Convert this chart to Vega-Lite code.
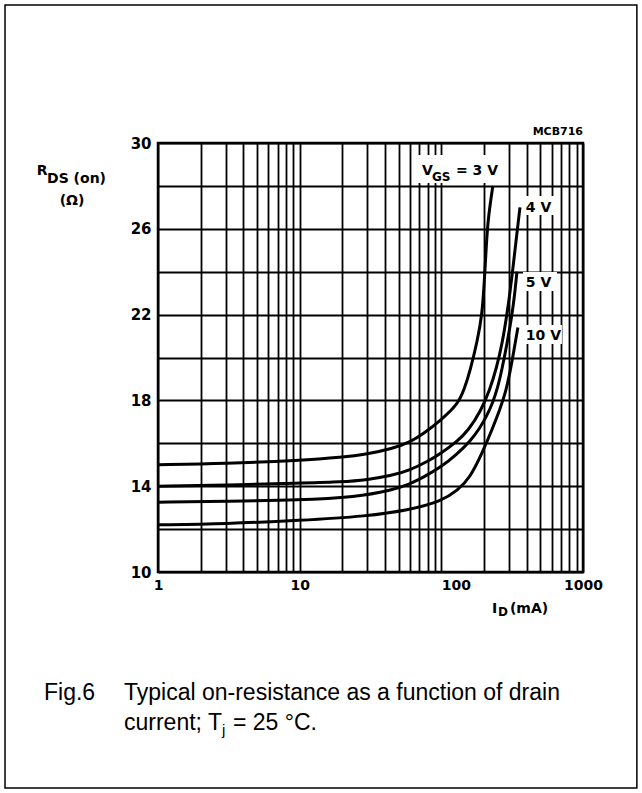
{
  "$schema": "https://vega.github.io/schema/vega-lite/v6.json",
  "width": 425,
  "height": 429,
  "autosize": {"type": "none"},
  "padding": {"left": 158, "top": 143, "right": 59, "bottom": 221},
  "background": "white",
  "config": {"view": {"stroke": "#000", "strokeWidth": 2.5}},
  "datasets": {
    "frame": [{"id": 0.0832, "id2": 2400, "r": 36.43, "r2": -0.07}],
    "boxes": [
      {"id": 68.4, "id2": 290, "r": 28.14, "r2": 29.44},
      {"id": 371, "id2": 645, "r": 26.64, "r2": 27.53},
      {"id": 377, "id2": 655, "r": 23.10, "r2": 23.99},
      {"id": 377, "id2": 710, "r": 20.63, "r2": 21.51}
    ],
    "curves": [
      {"vgs": "3 V", "id": 1, "r": 15.0}, {"vgs": "3 V", "id": 3, "r": 15.05}, {"vgs": "3 V", "id": 10, "r": 15.2},
      {"vgs": "3 V", "id": 20, "r": 15.35}, {"vgs": "3 V", "id": 30, "r": 15.5}, {"vgs": "3 V", "id": 45, "r": 15.75},
      {"vgs": "3 V", "id": 60, "r": 16.05}, {"vgs": "3 V", "id": 75, "r": 16.45}, {"vgs": "3 V", "id": 100, "r": 17.1},
      {"vgs": "3 V", "id": 130, "r": 17.8}, {"vgs": "3 V", "id": 145, "r": 18.5}, {"vgs": "3 V", "id": 160, "r": 19.4},
      {"vgs": "3 V", "id": 180, "r": 20.8}, {"vgs": "3 V", "id": 194, "r": 22.0}, {"vgs": "3 V", "id": 201, "r": 23.5},
      {"vgs": "3 V", "id": 208, "r": 25.3}, {"vgs": "3 V", "id": 214, "r": 26.5}, {"vgs": "3 V", "id": 231, "r": 28.0},
      {"vgs": "4 V", "id": 1, "r": 14.0}, {"vgs": "4 V", "id": 3, "r": 14.05}, {"vgs": "4 V", "id": 10, "r": 14.15},
      {"vgs": "4 V", "id": 20, "r": 14.2}, {"vgs": "4 V", "id": 30, "r": 14.3}, {"vgs": "4 V", "id": 45, "r": 14.5},
      {"vgs": "4 V", "id": 60, "r": 14.75}, {"vgs": "4 V", "id": 80, "r": 15.15}, {"vgs": "4 V", "id": 100, "r": 15.55},
      {"vgs": "4 V", "id": 130, "r": 16.1}, {"vgs": "4 V", "id": 155, "r": 16.6}, {"vgs": "4 V", "id": 190, "r": 17.5},
      {"vgs": "4 V", "id": 220, "r": 18.5}, {"vgs": "4 V", "id": 245, "r": 19.5}, {"vgs": "4 V", "id": 270, "r": 20.7},
      {"vgs": "4 V", "id": 290, "r": 22.0}, {"vgs": "4 V", "id": 305, "r": 23.0}, {"vgs": "4 V", "id": 318, "r": 24.0},
      {"vgs": "4 V", "id": 335, "r": 25.3}, {"vgs": "4 V", "id": 359, "r": 27.0},
      {"vgs": "5 V", "id": 1, "r": 13.25}, {"vgs": "5 V", "id": 3, "r": 13.3}, {"vgs": "5 V", "id": 10, "r": 13.35},
      {"vgs": "5 V", "id": 25, "r": 13.5}, {"vgs": "5 V", "id": 44, "r": 13.8}, {"vgs": "5 V", "id": 60, "r": 14.1},
      {"vgs": "5 V", "id": 74, "r": 14.4}, {"vgs": "5 V", "id": 100, "r": 14.9}, {"vgs": "5 V", "id": 129, "r": 15.5},
      {"vgs": "5 V", "id": 160, "r": 16.1}, {"vgs": "5 V", "id": 187, "r": 16.7}, {"vgs": "5 V", "id": 210, "r": 17.3},
      {"vgs": "5 V", "id": 231, "r": 17.9}, {"vgs": "5 V", "id": 250, "r": 18.6}, {"vgs": "5 V", "id": 267, "r": 19.4},
      {"vgs": "5 V", "id": 290, "r": 20.6}, {"vgs": "5 V", "id": 316, "r": 22.0}, {"vgs": "5 V", "id": 330, "r": 23.0},
      {"vgs": "5 V", "id": 342, "r": 24.0},
      {"vgs": "10 V", "id": 1, "r": 12.2}, {"vgs": "10 V", "id": 3, "r": 12.25}, {"vgs": "10 V", "id": 10, "r": 12.4},
      {"vgs": "10 V", "id": 30, "r": 12.6}, {"vgs": "10 V", "id": 60, "r": 12.9}, {"vgs": "10 V", "id": 100, "r": 13.3},
      {"vgs": "10 V", "id": 130, "r": 13.8}, {"vgs": "10 V", "id": 160, "r": 14.4}, {"vgs": "10 V", "id": 196, "r": 15.6},
      {"vgs": "10 V", "id": 230, "r": 16.7}, {"vgs": "10 V", "id": 260, "r": 17.6}, {"vgs": "10 V", "id": 285, "r": 18.4},
      {"vgs": "10 V", "id": 305, "r": 19.3}, {"vgs": "10 V", "id": 325, "r": 20.3}, {"vgs": "10 V", "id": 347, "r": 21.4}
    ],
    "annot": [
      {"kind": "label", "text": "V", "id": 73.0, "r": 28.51},
      {"kind": "label", "text": "= 3 V", "id": 126.8, "r": 28.51},
      {"kind": "label", "text": "4 V", "id": 395, "r": 26.78},
      {"kind": "label", "text": "5 V", "id": 395, "r": 23.29},
      {"kind": "label", "text": "10 V", "id": 395, "r": 20.82},
      {"kind": "label", "text": "I", "id": 227.6, "r": 8.09},
      {"kind": "label", "text": "(mA)", "id": 305, "r": 8.09},
      {"kind": "label", "text": "R", "id": 0.1395, "r": 28.51},
      {"kind": "label", "text": "DS (on)", "id": 0.1647, "r": 28.14},
      {"kind": "labelc", "text": "(Ω)", "id": 0.2472, "r": 27.11},
      {"kind": "sub", "text": "GS", "id": 85.9, "r": 28.23},
      {"kind": "sub", "text": "D", "id": 250.9, "r": 7.95},
      {"kind": "code", "text": "MCB716", "id": 1000, "r": 30.37},
      {"kind": "cap", "text": "Fig.6", "id": 0.1568, "r": 4.033},
      {"kind": "cap", "text": "Typical on-resistance as a function of drain", "id": 0.5754, "r": 4.033},
      {"kind": "cap", "text": "current; T", "id": 0.5754, "r": 2.634},
      {"kind": "cap", "text": "= 25 °C.", "id": 3.383, "r": 2.634},
      {"kind": "capsub", "text": "j", "id": 2.829, "r": 2.401}
    ]
  },
  "encoding": {
    "x": {
      "field": "id", "type": "quantitative",
      "scale": {"type": "log", "domain": [1, 1000], "nice": false},
      "axis": {
        "values": [1, 2, 3, 4, 5, 6, 7, 8, 9, 10, 20, 30, 40, 50, 60, 70, 80, 90, 100, 200, 300, 400, 500, 600, 700, 800, 900, 1000],
        "labelExpr": "indexof([1,10,100,1000], datum.value) >= 0 ? format(datum.value, 'd') : ''",
        "title": null, "domain": false, "ticks": false,
        "grid": true, "gridColor": "#000", "gridWidth": 1.8, "gridOpacity": 1,
        "labelFont": "DejaVu Sans", "labelFontWeight": "bold", "labelFontSize": 14, "labelColor": "#000",
        "labelPadding": 6, "labelOverlap": false, "labelFlush": false, "labelBound": false,
        "labelAlign": {"condition": {"test": "datum.value == 100", "value": "left"}, "value": "center"}
      }
    },
    "y": {
      "field": "r", "type": "quantitative",
      "scale": {"domain": [10, 30], "nice": false, "zero": false},
      "axis": {
        "values": [10, 12, 14, 16, 18, 20, 22, 24, 26, 28, 30],
        "labelExpr": "datum.value % 4 == 2 ? datum.label : ''",
        "title": null, "domain": false, "ticks": false,
        "grid": true, "gridColor": "#000", "gridWidth": 2, "gridOpacity": 1,
        "labelFont": "DejaVu Sans", "labelFontWeight": "bold", "labelFontSize": 15, "labelColor": "#000",
        "labelPadding": 7, "labelOverlap": false, "labelFlush": false, "labelBound": false
      }
    }
  },
  "layer": [
    {
      "data": {"name": "frame"},
      "mark": {"type": "rect", "filled": false, "stroke": "#000", "strokeWidth": 1.5, "clip": false},
      "encoding": {"x2": {"field": "id2"}, "y2": {"field": "r2"}}
    },
    {
      "data": {"name": "boxes"},
      "mark": {"type": "rect", "fill": "white", "stroke": null, "clip": false},
      "encoding": {"x2": {"field": "id2"}, "y2": {"field": "r2"}}
    },
    {
      "data": {"name": "curves"},
      "mark": {"type": "line", "color": "#000", "strokeWidth": 3, "interpolate": "basis"},
      "encoding": {"detail": {"field": "vgs"}}
    },
    {
      "data": {"name": "annot"},
      "transform": [{"filter": "datum.kind == 'label'"}],
      "mark": {"type": "text", "align": "left", "baseline": "alphabetic", "font": "DejaVu Sans", "fontWeight": "bold", "fontSize": 14, "color": "#000", "clip": false},
      "encoding": {"text": {"field": "text"}}
    },
    {
      "data": {"name": "annot"},
      "transform": [{"filter": "datum.kind == 'labelc'"}],
      "mark": {"type": "text", "align": "center", "baseline": "alphabetic", "font": "DejaVu Sans", "fontWeight": "bold", "fontSize": 14, "color": "#000", "clip": false},
      "encoding": {"text": {"field": "text"}}
    },
    {
      "data": {"name": "annot"},
      "transform": [{"filter": "datum.kind == 'sub'"}],
      "mark": {"type": "text", "align": "left", "baseline": "alphabetic", "font": "DejaVu Sans", "fontWeight": "bold", "fontSize": 12, "color": "#000", "clip": false},
      "encoding": {"text": {"field": "text"}}
    },
    {
      "data": {"name": "annot"},
      "transform": [{"filter": "datum.kind == 'code'"}],
      "mark": {"type": "text", "align": "right", "baseline": "alphabetic", "font": "DejaVu Sans", "fontWeight": "bold", "fontSize": 11, "color": "#000", "clip": false},
      "encoding": {"text": {"field": "text"}}
    },
    {
      "data": {"name": "annot"},
      "transform": [{"filter": "datum.kind == 'cap'"}],
      "mark": {"type": "text", "align": "left", "baseline": "alphabetic", "font": "Liberation Sans", "fontSize": 23, "color": "#000", "clip": false},
      "encoding": {"text": {"field": "text"}}
    },
    {
      "data": {"name": "annot"},
      "transform": [{"filter": "datum.kind == 'capsub'"}],
      "mark": {"type": "text", "align": "left", "baseline": "alphabetic", "font": "Liberation Sans", "fontSize": 15, "color": "#000", "clip": false},
      "encoding": {"text": {"field": "text"}}
    }
  ]
}
